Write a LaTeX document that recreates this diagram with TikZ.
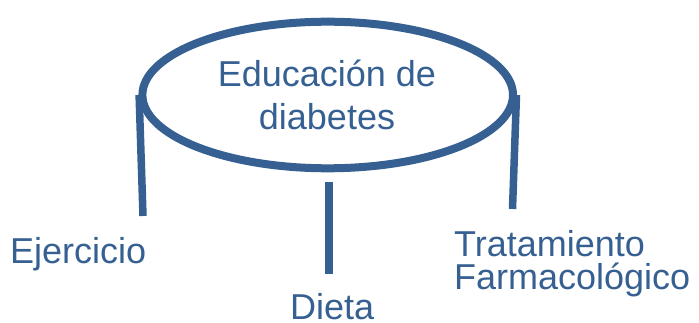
\documentclass[tikz,border=0pt]{standalone}
\usepackage{fontspec}
\setmainfont{Liberation Sans}
\usetikzlibrary{shapes.geometric}
\definecolor{edublue}{RGB}{55,96,146}
\tikzset{
  bigellipse/.style={ellipse, draw=edublue, line width=8pt, minimum width=370.6pt, minimum height=146.6pt, inner sep=0pt},
  stem/.style={draw=edublue, line width=7.5pt, line cap=butt},
  lbl/.style={text=edublue, inner sep=0pt, font=\fontsize{36}{33}\selectfont, align=left},
  titletext/.style={text=edublue, inner sep=0pt, font=\fontsize{36}{43}\selectfont, align=center}
}
\begin{document}
\begin{tikzpicture}[x=1pt,y=-1pt]
\useasboundingbox (0,0) rectangle (699,323);
\node[bigellipse] (edu) at (327.7,95) {};
\node[titletext, anchor=base] (edutext) at (327,130) {Educación de\\diabetes};
\coordinate (ejend) at (143,216);
\coordinate (diend) at (329,274);
\coordinate (trend) at (512.5,209);
\draw[stem] ([xshift=0.7pt]edu.west) -- (ejend);
\draw[stem] ([xshift=1.3pt,yshift=-10pt]edu.south) -- (diend);
\draw[stem] ([xshift=-0.5pt]edu.east) -- (trend);
\node[lbl, anchor=base west] (ej) at (10,263.3) {Ejercicio};
\node[lbl, anchor=base west] (di) at (290,319.5) {Dieta};
\node[lbl, anchor=base west] (tr) at (454,290) {Tratamiento\\Farmacológico};
\end{tikzpicture}
\end{document}
